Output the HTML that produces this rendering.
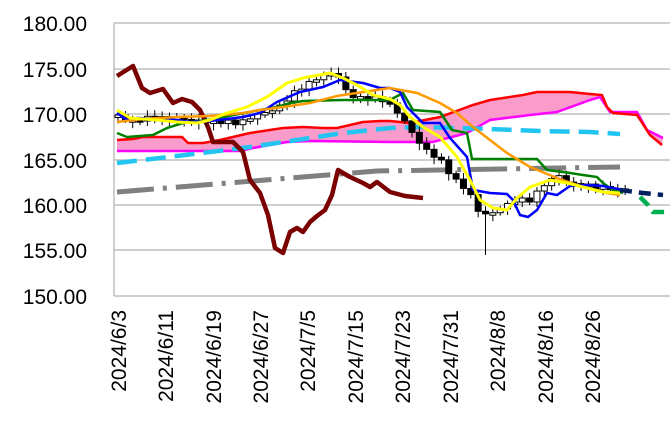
<!DOCTYPE html>
<html><head><meta charset="utf-8"><style>
html,body{margin:0;padding:0;background:#fff;}
svg{display:block;font-family:"Liberation Sans",sans-serif;}
</style></head><body>
<svg id="c" width="670" height="431" viewBox="0 0 670 431" xmlns="http://www.w3.org/2000/svg">
<g stroke="#bfbfbf" stroke-width="1.5">
<line x1="114" y1="23" x2="670" y2="23"/><line x1="114" y1="69" x2="670" y2="69"/>
<line x1="114" y1="114" x2="670" y2="114"/><line x1="114" y1="160" x2="670" y2="160"/>
<line x1="114" y1="205" x2="670" y2="205"/><line x1="114" y1="250" x2="670" y2="250"/>
<line x1="114" y1="296" x2="670" y2="296"/><line x1="114" y1="23" x2="114" y2="296"/>
</g>
<g font-size="21" text-anchor="end" fill="#000">
<text x="87" y="31">180.00</text><text x="87" y="77">175.00</text><text x="87" y="122">170.00</text>
<text x="87" y="168">165.00</text><text x="87" y="213">160.00</text><text x="87" y="258">155.00</text>
<text x="87" y="304">150.00</text>
</g>
<g font-size="21" text-anchor="end" fill="#000">
<text transform="translate(126,310) rotate(-90)">2024/6/3</text>
<text transform="translate(173,310) rotate(-90)">2024/6/11</text>
<text transform="translate(221,310) rotate(-90)">2024/6/19</text>
<text transform="translate(268,310) rotate(-90)">2024/6/27</text>
<text transform="translate(315,310) rotate(-90)">2024/7/5</text>
<text transform="translate(363,310) rotate(-90)">2024/7/15</text>
<text transform="translate(410,310) rotate(-90)">2024/7/23</text>
<text transform="translate(458,310) rotate(-90)">2024/7/31</text>
<text transform="translate(505,310) rotate(-90)">2024/8/8</text>
<text transform="translate(553,310) rotate(-90)">2024/8/16</text>
<text transform="translate(600,310) rotate(-90)">2024/8/26</text>
</g>
<polygon fill="#f99ccb" points="117,140 133,139 143,137 182,137 188,143 203,143 220,140 250,133 283,128 303,127 323,128 337,128 363,122 380,121 390,121 410,123 440,117 473,105 490,100 523,95 537,92 570,92 590,94 602,95 607,107 613,113 637,115 650,135 662,145 663,138 647,130 637,112 610,112 600,97 590,100 557,112 530,115 490,120 467,133 433,142 390,142 310,141 287,142 253,148 240,151 117,151"/>
<polyline fill="none" stroke="#ff00ff" stroke-width="2.5" points="117,151 240,151 253,148 287,142 310,141 390,142 433,142 467,133 490,120 530,115 557,112 590,100 600,97 610,112 637,112 647,130 663,138"/>
<polyline fill="none" stroke="#ff0000" stroke-width="2.5" points="117,140 133,139 143,137 182,137 188,143 203,143 220,140 250,133 283,128 303,127 323,128 337,128 363,122 380,121 390,121 410,123 440,117 473,105 490,100 523,95 537,92 570,92 590,94 602,95 607,107 613,113 637,115 650,135 662,145"/>
<polyline fill="none" stroke="#808080" stroke-width="5" stroke-dasharray="37 9 4 9" points="117,192 377,171 620,167"/>
<polyline fill="none" stroke="#22c4f0" stroke-width="4.5" stroke-dasharray="20 9" points="117,163 177,156 210,152 250,147 297,140 343,133 390,128 423,127 457,128 490,129 540,131 590,132 620,134"/>
<polyline fill="none" stroke="#7b0000" stroke-width="4.5" stroke-linejoin="round" points="117,76 133,66 142,88 150,93 163,89 173,103 182,99 192,102 200,110 208,127 213,142 233,142 243,152 250,180 260,193 268,215 275,248 283,253 290,232 297,228 303,232 310,222 317,216 325,210 332,195 338,170 350,177 363,183 370,187 377,182 390,192 405,196 423,198"/>
<g id="cand"></g>
<polyline fill="none" stroke="#008000" stroke-width="2.5" points="117,133 127,137 153,135 167,128 183,123 207,120 223,117 260,110 277,107 290,103 303,101 343,100 390,100 403,93 413,110 440,112 452,130 467,133 472,159 537,159 547,170 570,173 583,175 597,177 603,183 613,190 623,193"/>
<polyline fill="none" stroke="#0000ff" stroke-width="2.5" points="117,113 127,120 137,118 177,120 190,122 210,121 227,119 243,117 260,113 277,102 300,92 323,87 340,80 363,83 380,88 390,88 400,92 407,107 423,123 440,123 450,138 467,157 473,190 490,193 507,194 513,200 520,215 528,217 537,210 547,193 557,195 570,186 590,185 603,186 613,188 623,190"/>
<polyline fill="none" stroke="#ff9900" stroke-width="2.5" points="117,122 143,119 177,117 210,116 243,113 260,110 283,107 310,103 337,96 363,92 390,88 417,93 440,103 457,113 473,127 490,140 507,153 530,167 557,178 583,187 607,193 620,195"/>
<polyline fill="none" stroke="#ffff00" stroke-width="3" stroke-linejoin="round" points="117,110 130,118 157,120 177,122 197,123 210,120 227,113 247,107 267,97 287,83 303,78 330,73 343,78 357,85 373,95 390,99 400,105 410,117 423,127 440,137 457,157 470,180 480,200 493,208 507,210 517,198 530,187 550,180 567,183 583,187 603,192 620,193"/>
<polyline fill="none" stroke="#002060" stroke-width="4.5" stroke-dasharray="12 7" points="620,190 643,193 663,195"/>
<polyline fill="none" stroke="#00b050" stroke-width="4.5" stroke-dasharray="12 7" points="640,197 648,205 653,212 666,212"/>
</svg>
<script>
var k=[[118,115],[130,120],[150,118],[200,120],[240,123],[260,115],[280,105],[300,88],[320,78],[335,72],[340,82],[350,95],[370,98],[385,100],[395,110],[410,130],[425,148],[440,160],[455,180],[470,195],[480,215],[490,215],[500,207],[515,200],[530,200],[545,185],[560,175],[570,183],[600,188],[625,192]];
function f(x){for(var i=1;i<k.length;i++){if(x<=k[i][0]){var a=k[i-1],b=k[i];return a[1]+(b[1]-a[1])*(x-a[0])/(b[0]-a[0]);}}return k[k.length-1][1];}
var s='',prev=f(118);
for(var x=118;x<=626;x+=7.35){var c=f(x)+((Math.round(x)%3)-1)*2,o=prev,t=Math.min(o,c),h=Math.max(Math.abs(c-o),2.5),dn=c>o;
var hi=t-3-(Math.round(x)%4),lo=t+h+3+(Math.round(x)%5);if(Math.abs(x-485)<4)lo=255;
s+='<line x1="'+x+'" y1="'+hi+'" x2="'+x+'" y2="'+lo+'" stroke="#000" stroke-width="1"/>';
s+='<rect x="'+(x-3)+'" y="'+t+'" width="6" height="'+h+'" fill="'+(dn?'#000':'#fff')+'" stroke="#000" stroke-width="1"/>';prev=c;}
document.getElementById('cand').innerHTML=s;
</script>
</body></html>
